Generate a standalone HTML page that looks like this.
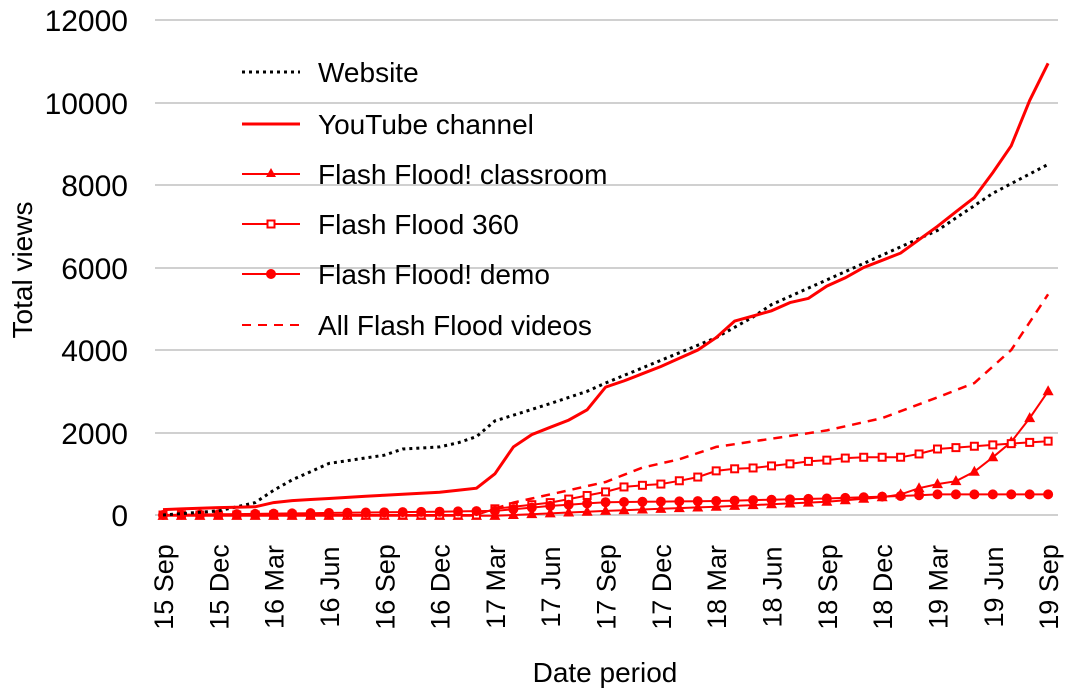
<!DOCTYPE html>
<html><head><meta charset="utf-8"><style>
html,body{margin:0;padding:0;background:#fff;}
svg{display:block;font-family:"Liberation Sans",Arial,sans-serif;}
</style></head><body>
<svg id="s" width="1074" height="697" viewBox="0 0 1074 697" xmlns="http://www.w3.org/2000/svg">
<g stroke="#d0d0d0" stroke-width="2">
<line x1="155" x2="1058" y1="20" y2="20"/><line x1="155" x2="1058" y1="103" y2="103"/>
<line x1="155" x2="1058" y1="185" y2="185"/><line x1="155" x2="1058" y1="268" y2="268"/>
<line x1="155" x2="1058" y1="350" y2="350"/><line x1="155" x2="1058" y1="433" y2="433"/>
<line x1="155" x2="1058" y1="515" y2="515"/>
</g>
<g font-size="30" text-anchor="end" fill="#000">
<text x="128" y="31">12000</text><text x="128" y="114">10000</text><text x="128" y="196">8000</text>
<text x="128" y="279">6000</text><text x="128" y="361">4000</text><text x="128" y="444">2000</text>
<text x="128" y="526">0</text>
</g>
<text font-size="28" transform="translate(32,270) rotate(-90)" text-anchor="middle">Total views</text>
<text font-size="28" x="605" y="682" text-anchor="middle">Date period</text>
<g id="xl" font-size="27" text-anchor="middle"></g>
<g id="series"></g>
<g font-size="28">
<line x1="242" x2="300" y1="72" y2="72" stroke="#000" stroke-width="3" stroke-dasharray="3,4"/>
<text x="318" y="82">Website</text>
<line x1="242" x2="300" y1="124" y2="124" stroke="#f00" stroke-width="3"/>
<text x="318" y="134">YouTube channel</text>
<line x1="242" x2="300" y1="174" y2="174" stroke="#f00" stroke-width="2"/>
<polygon points="271,168 276,177 266,177" fill="#f00"/>
<text x="318" y="184">Flash Flood! classroom</text>
<line x1="242" x2="300" y1="224" y2="224" stroke="#f00" stroke-width="2"/>
<rect x="267.5" y="220.5" width="7" height="7" fill="#fff" stroke="#f00" stroke-width="2"/>
<text x="318" y="234">Flash Flood 360</text>
<line x1="242" x2="300" y1="274" y2="274" stroke="#f00" stroke-width="2"/>
<circle cx="271" cy="274" r="5" fill="#f00"/>
<text x="318" y="284">Flash Flood! demo</text>
<line x1="242" x2="300" y1="325" y2="325" stroke="#f00" stroke-width="2" stroke-dasharray="9,7"/>
<text x="318" y="335">All Flash Flood videos</text>
</g>
</svg>
<script>
var NS="http://www.w3.org/2000/svg";
function X(i){return 163+18.44*i;}
function Y(v){return 515-v*495/12000;}
function interp(k){var out=[];for(var i=0;i<=48;i++){var a=null,b=null;for(var j=0;j<k.length;j++){if(k[j][0]<=i)a=k[j];if(k[j][0]>=i&&b===null)b=k[j];}
if(a===null){out.push(null);continue;}if(b===null)b=a;var v=(a[0]==b[0])?a[1]:a[1]+(b[1]-a[1])*(i-a[0])/(b[0]-a[0]);out.push(v);}return out;}
var g=document.getElementById('series');
function el(t,at){var e=document.createElementNS(NS,t);for(var k in at)e.setAttribute(k,at[k]);g.appendChild(e);return e;}
function line(vals,attrs){var p=[];vals.forEach(function(v,i){if(v!==null)p.push(X(i).toFixed(1)+","+Y(v).toFixed(1));});attrs.points=p.join(" ");attrs.fill="none";el("polyline",attrs);}
var web=interp([[0,0],[3,100],[5,300],[6,600],[7,850],[9,1250],[12,1450],[13,1600],[15,1650],[16,1750],[17,1900],[18,2280],[21,2700],[23,3000],[24,3200],[27,3750],[30,4300],[32,4800],[33,5100],[36,5700],[39,6300],[40,6500],[42,6900],[44,7500],[45,7800],[48,8500]]);
var yt=interp([[0,130],[3,180],[5,200],[6,300],[7,350],[9,400],[12,480],[15,550],[16,600],[17,650],[18,1000],[19,1650],[20,1950],[22,2300],[23,2550],[24,3100],[25,3250],[27,3600],[29,4000],[30,4300],[31,4700],[33,4950],[34,5150],[35,5250],[36,5550],[37,5750],[38,6000],[40,6350],[42,7000],[44,7700],[45,8300],[46,8950],[47,10050],[48,10950]]);
var all=interp([[18,150],[19,300],[21,500],[24,800],[26,1150],[28,1350],[30,1650],[33,1850],[36,2050],[39,2350],[42,2850],[44,3200],[46,4000],[48,5350]]);
var sq=interp([[0,0],[17,0],[18,150],[21,300],[24,560],[25,680],[26,720],[27,750],[28,830],[29,920],[30,1070],[31,1120],[32,1140],[33,1190],[34,1240],[35,1300],[36,1330],[37,1380],[38,1400],[40,1400],[41,1480],[42,1600],[45,1700],[48,1790]]);
var ci=interp([[0,0],[9,50],[15,80],[18,100],[21,220],[24,310],[30,340],[36,400],[40,460],[42,500],[48,500]]);
var tr=interp([[0,-20],[18,-20],[24,100],[30,200],[36,320],[39,430],[40,500],[41,650],[42,750],[43,820],[44,1050],[45,1400],[46,1770],[47,2350],[48,3000]]);
line(all,{stroke:"#f00","stroke-width":2.5,"stroke-dasharray":"9,7"});
line(tr,{stroke:"#f00","stroke-width":2});
tr.forEach(function(v,i){var x=X(i),y=Y(v);el("polygon",{points:x+","+(y-6)+" "+(x+5.5)+","+(y+4)+" "+(x-5.5)+","+(y+4),fill:"#f00"});});
line(sq,{stroke:"#f00","stroke-width":2});
sq.forEach(function(v,i){el("rect",{x:X(i)-3.5,y:Y(v)-3.5,width:7,height:7,fill:"#fff",stroke:"#f00","stroke-width":2});});
line(ci,{stroke:"#f00","stroke-width":2});
ci.forEach(function(v,i){el("circle",{cx:X(i),cy:Y(v),r:5,fill:"#f00"});});
line(web,{stroke:"#000","stroke-width":3,"stroke-dasharray":"3,4"});
line(yt,{stroke:"#f00","stroke-width":3});
var labs=["15 Sep","15 Dec","16 Mar","16 Jun","16 Sep","16 Dec","17 Mar","17 Jun","17 Sep","17 Dec","18 Mar","18 Jun","18 Sep","18 Dec","19 Mar","19 Jun","19 Sep"];
var xl=document.getElementById('xl');
labs.forEach(function(t,k){var x=X(k*3)+10;var e=document.createElementNS(NS,"text");e.setAttribute("transform","translate("+x+",587) rotate(-90)");e.setAttribute("xml:space","preserve");e.style.whiteSpace="pre";e.textContent=t;xl.appendChild(e);});
</script>
</body></html>
